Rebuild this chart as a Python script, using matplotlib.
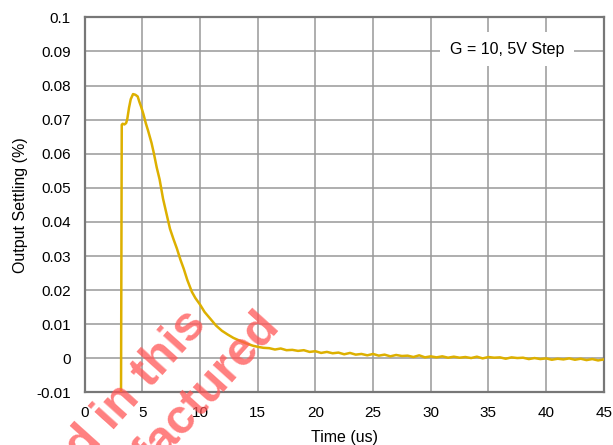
import matplotlib.pyplot as plt

plt.rcParams['font.family'] = ['Liberation Sans', 'DejaVu Sans']

# settling trace (time in us, settling in %)
rise_t = [3.15, 3.22, 3.30, 3.45, 3.60, 3.70, 3.85, 4.00, 4.20, 4.40, 4.60, 4.75,
          4.90, 5.10, 5.30, 5.50, 5.80, 6.00, 6.25, 6.50, 6.80, 7.10, 7.40, 7.70,
          8.00, 8.30, 8.60, 8.90, 9.30, 9.60, 10.0, 10.4, 10.9, 11.4, 11.9, 12.4,
          12.9, 13.5, 14.0, 14.6, 15.0, 15.5]
rise_v = [-0.02, 0.0685, 0.0688, 0.0686, 0.0690, 0.0702, 0.0735, 0.0760, 0.0775, 0.0773,
          0.0768, 0.0752, 0.0738, 0.0716, 0.0690, 0.0668, 0.0632, 0.0602, 0.0560, 0.0525,
          0.0468, 0.0424, 0.0380, 0.0350, 0.0322, 0.0290, 0.0262, 0.0230, 0.0195, 0.0177,
          0.0158, 0.0136, 0.0116, 0.0096, 0.0081, 0.0070, 0.0060, 0.0051, 0.0044, 0.0037,
          0.0034, 0.0031]
tail_t = [16.0, 16.5, 17.0, 17.5, 18.0, 18.5, 19.0, 19.5, 20.0, 20.5, 21.0, 21.5,
          22.0, 22.5, 23.0, 23.5, 24.0, 24.5, 25.0, 25.5, 26.0, 26.5, 27.0, 27.5,
          28.0, 28.5, 29.0, 29.5, 30.0, 30.5, 31.0, 31.5, 32.0, 32.5, 33.0, 33.5,
          34.0, 34.5, 35.0, 35.5, 36.0, 36.5, 37.0, 37.5, 38.0, 38.5, 39.0, 39.5,
          40.0, 40.5, 41.0, 41.5, 42.0, 42.5, 43.0, 43.5, 44.0, 44.5, 45.0]
tail_v = [0.0030, 0.0026, 0.0029, 0.0024, 0.0025, 0.0022, 0.0024, 0.0019, 0.0021, 0.0016,
          0.0019, 0.0015, 0.0017, 0.0012, 0.0016, 0.0011, 0.0013, 0.0009, 0.0013, 0.0008,
          0.0011, 0.0006, 0.0010, 0.0007, 0.0008, 0.0004, 0.0009, 0.0003, 0.0006, 0.0003,
          0.0006, 0.0002, 0.0005, 0.0002, 0.0004, 0.0001, 0.0005, 0.0000, 0.0004, 0.0002,
          0.0003, -0.0001, 0.0003, 0.0001, 0.0002, -0.0002, 0.0001, -0.0002, 0.0000, -0.0004,
          -0.0001, -0.0003, 0.0000, -0.0004, -0.0001, -0.0005, -0.0002, -0.0006, -0.0003]

time_us = rise_t + tail_t
settling = rise_v + tail_v

fig = plt.figure(figsize=(6.13, 4.45), dpi=100)
ax = fig.add_axes([0.138, 0.118, 0.847, 0.843])

ax.plot(time_us, settling, color='#DDB000', lw=1.8, zorder=3)

ax.set_xlim(0, 45)
ax.set_ylim(-0.01, 0.1)
ax.set_xticks(range(0, 46, 5))
ax.set_yticks([-0.01, 0, 0.01, 0.02, 0.03, 0.04, 0.05, 0.06, 0.07, 0.08, 0.09, 0.1])
ax.set_yticklabels(['-0.01', '0', '0.01', '0.02', '0.03', '0.04', '0.05', '0.06',
                    '0.07', '0.08', '0.09', '0.1'])
ax.grid(True, color='#999999', lw=1.1)
ax.tick_params(length=0, labelsize=11, pad=10)
for s in ax.spines.values():
    s.set_color('#777777')
    s.set_linewidth(1.6)

ax.set_xlabel('Time (us)', fontsize=11.5, labelpad=7)
ax.set_ylabel('Output Settling (%)', fontsize=11.5, labelpad=6)

ax.text(36.6, 0.0907, 'G = 10, 5V Step', fontsize=11.5, ha='center', va='center',
        bbox=dict(facecolor='white', edgecolor='none', pad=7), zorder=4)

# watermark
wm = dict(fontsize=35, fontweight='bold', color='#FF5555', alpha=0.75,
          rotation=48, rotation_mode='anchor', ha='right', va='baseline', zorder=10)
fig.text(0.340, 0.270, 'discontinued in this', **wm)
fig.text(0.458, 0.268, 'manufactured', **wm)

fig.savefig('out.png', dpi=100)
